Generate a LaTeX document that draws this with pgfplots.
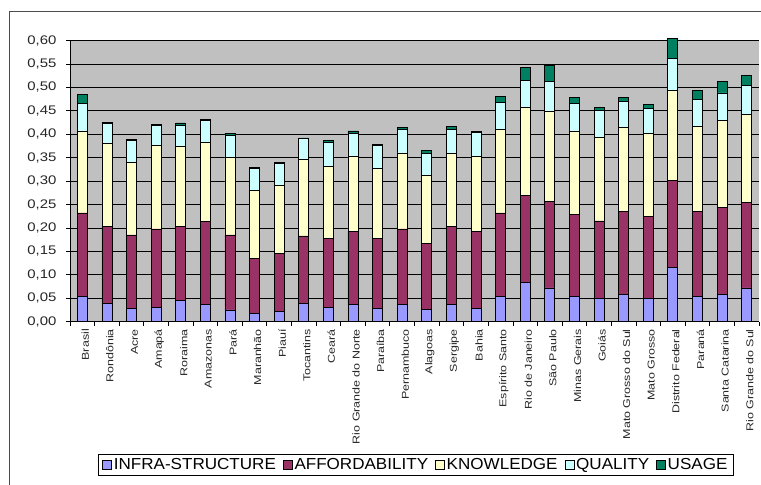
\documentclass[border=0pt]{standalone}
\usepackage{fontspec}
\setmainfont{Liberation Sans}
\usepackage{graphicx}
\usepackage{pgfplots}
\pgfplotsset{compat=1.18}
\usepackage{pgfplotstable}

\definecolor{cInfra}{RGB}{153,153,255}
\definecolor{cAfford}{RGB}{153,51,102}
\definecolor{cKnow}{RGB}{255,255,204}
\definecolor{cQual}{RGB}{204,255,255}
\definecolor{cUsage}{RGB}{0,128,96}
\definecolor{plotbg}{RGB}{192,192,192}

% Index components per state (stacked): infrastructure, affordability,
% knowledge, quality, usage
\pgfplotstableread{
x  infra  afford know  qual  usage
0  0.053  0.179  0.175 0.059 0.019
1  0.039  0.164  0.177 0.043 0.003
2  0.028  0.157  0.154 0.048 0.001
3  0.031  0.167  0.179 0.041 0.002
4  0.045  0.158  0.172 0.044 0.005
5  0.037  0.176  0.169 0.047 0.002
6  0.025  0.160  0.165 0.048 0.004
7  0.017  0.118  0.146 0.046 0.003
8  0.021  0.125  0.145 0.047 0.002
9  0.039  0.144  0.163 0.045 0.001
10 0.030  0.148  0.154 0.050 0.004
11 0.036  0.157  0.159 0.050 0.005
12 0.028  0.150  0.149 0.050 0.002
13 0.036  0.162  0.162 0.050 0.004
14 0.026  0.141  0.146 0.046 0.006
15 0.036  0.167  0.156 0.051 0.006
16 0.028  0.165  0.159 0.051 0.002
17 0.053  0.179  0.178 0.057 0.013
18 0.083  0.186  0.188 0.058 0.027
19 0.072  0.184  0.192 0.064 0.034
20 0.053  0.176  0.178 0.059 0.012
21 0.050  0.165  0.179 0.057 0.006
22 0.058  0.177  0.179 0.055 0.009
23 0.050  0.174  0.178 0.053 0.009
24 0.115  0.187  0.192 0.067 0.043
25 0.053  0.182  0.181 0.058 0.020
26 0.058  0.185  0.187 0.058 0.024
27 0.072  0.182  0.188 0.063 0.021
}\states

\newcommand{\stname}[1]{\scalebox{1.25}[1]{#1}}
\newcommand{\legname}[1]{\scalebox{1.07}[1]{#1}}

\begin{document}
\begin{tikzpicture}
\useasboundingbox (0,0) rectangle (761bp,485bp);
% chart frame (continues past the right and bottom edges)
\draw[black!70, line width=1bp] (9bp,-10bp) -- (9bp,473bp) -- (780bp,473bp);
\begin{axis}[
  at={(70bp,163.3bp)}, anchor=south west,
  scale only axis, width=689bp, height=281.2bp,
  xmin=-0.5, xmax=27.5, ymin=0, ymax=0.6,
  clip=false,
  ybar stacked, bar width=10bp,
  axis background/.style={fill=plotbg},
  axis x line*=bottom, axis y line*=left,
  axis line style={black, line width=0.8bp},
  ymajorgrids, major grid style={black, line width=0.8bp},
  ytick={0,0.05,0.1,0.15,0.2,0.25,0.3,0.35,0.4,0.45,0.5,0.55,0.6},
  yticklabel={\scalebox{1.2}[1]{\pgfmathprintnumber[fixed,fixed zerofill,precision=2,use comma,assume math mode=true]{\tick}}},
  yticklabel style={font=\fontsize{12.5}{14}\selectfont, black!85, xshift=-6bp},
  tick align=outside, major tick length=4bp, minor tick length=4bp,
  tick style={black, line width=0.8bp},
  xtick={0,...,27},
  major x tick style={draw=none},
  minor xtick={-0.5,0.5,...,27.5},
  x tick label style={rotate=90, anchor=east, font=\fontsize{10}{12}\selectfont, black!85, yshift=-3bp},
  xticklabels={\stname{Brasil},\stname{Rondônia},\stname{Acre},\stname{Amapá},\stname{Roraima},\stname{Amazonas},\stname{Pará},\stname{Maranhão},\stname{Piauí},\stname{Tocantins},\stname{Ceará},\stname{Rio Grande do Norte},\stname{Paraíba},\stname{Pernambuco},\stname{Alagoas},\stname{Sergipe},\stname{Bahia},\stname{Espírito Santo},\stname{Rio de Janeiro},\stname{São Paulo},\stname{Minas Gerais},\stname{Goiás},\stname{Mato Grosso do Sul},\stname{Mato Grosso},\stname{Distrito Federal},\stname{Paraná},\stname{Santa Catarina},\stname{Rio Grande do Sul}},
  legend columns=5,
  legend style={at={(0.502,-0.51)}, anchor=center, draw=black, line width=0.8bp,
    font=\fontsize{16}{18}\selectfont, inner xsep=4bp, inner ysep=2bp,
    /tikz/every even column/.append style={column sep=5bp}},
  legend image code/.code={\draw[#1, draw=black, line width=0.6bp] (0bp,-4.5bp) rectangle (9bp,4.5bp);},
  every axis plot/.append style={draw=black, line width=0.8bp},
]
\addplot[fill=cInfra]  table[x=x, y=infra]  {\states};
\addplot[fill=cAfford] table[x=x, y=afford] {\states};
\addplot[fill=cKnow]   table[x=x, y=know]   {\states};
\addplot[fill=cQual]   table[x=x, y=qual]   {\states};
\addplot[fill=cUsage]  table[x=x, y=usage]  {\states};
\legend{\legname{INFRA-STRUCTURE},\legname{AFFORDABILITY},\legname{KNOWLEDGE},\legname{QUALITY},\legname{USAGE}}
\end{axis}
\end{tikzpicture}
\end{document}
